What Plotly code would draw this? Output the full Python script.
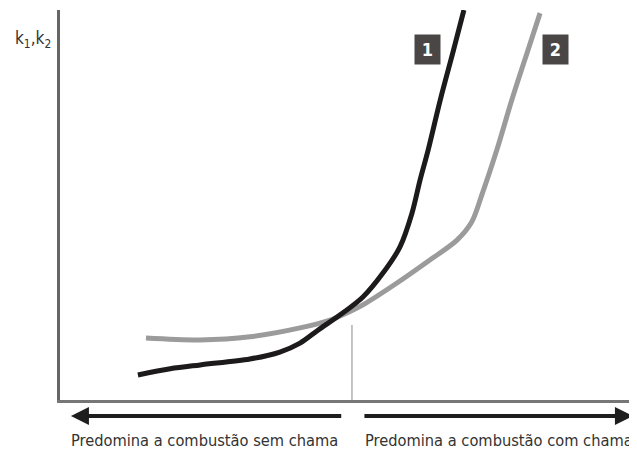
import plotly.graph_objects as go

# Curve 1 (black) and curve 2 (gray), arbitrary units (x: 0-100, y: 0-100)
x1 = [13.5, 19.1, 24.3, 32.9, 38.1, 41.6, 44.7, 49.0, 52.5, 56.0, 58.9, 61.0, 62.4, 63.8, 65.9, 68.2, 70.0]
y1 = [6.4, 8.0, 9.0, 10.5, 12.3, 14.6, 17.9, 22.3, 26.4, 32.6, 39.2, 47.9, 56.4, 64.1, 76.9, 89.7, 100.0]

x2 = [14.9, 24.3, 32.9, 41.6, 46.8, 49.4, 52.5, 58.4, 64.1, 68.8, 71.3, 73.2, 75.7, 78.3, 81.1, 83.2]
y2 = [15.9, 15.4, 16.2, 18.5, 20.5, 22.1, 24.4, 30.0, 35.9, 41.0, 45.5, 53.0, 64.1, 76.9, 89.7, 99.2]

curve_labels = ["1", "2"]
label_x = [63.7, 85.9]
label_y = [89.9, 89.9]

split_x = 50.6
region_labels = ["Predomina a combustão sem chama", "Predomina a combustão com chama"]
region_label_x = [25.0, 76.1]
y_label = "k<sub>1</sub>,k<sub>2</sub>"

FONT = "DejaVu Sans Condensed, Liberation Sans Narrow, sans-serif"

# The page body has an 8px default margin: size the figure so the plot area
# lands at the same screen pixels as the reference.
OFF = 8

fig = go.Figure()
fig.add_trace(go.Scatter(x=x2, y=y2, mode="lines",
                         line=dict(color="#9b9b9b", width=5, shape="spline", smoothing=0.9),
                         hoverinfo="skip", showlegend=False))
fig.add_trace(go.Scatter(x=x1, y=y1, mode="lines",
                         line=dict(color="#1c1a1a", width=5, shape="spline", smoothing=0.9),
                         hoverinfo="skip", showlegend=False))

# vertical divider line
fig.add_shape(type="line", xref="x", yref="y", x0=split_x, x1=split_x, y0=19.2, y1=-2.1,
              line=dict(color="#b0b0b0", width=1.5))

annotations = []
for t, lx, ly in zip(curve_labels, label_x, label_y):
    annotations.append(dict(x=lx, y=ly, xref="x", yref="y", text="<b>%s</b>" % t,
                            showarrow=False, bgcolor="#4b4646", width=25, height=29,
                            borderpad=0, font=dict(family=FONT, size=18, color="white")))

# arrows below axis
arrow_y = -0.041
annotations.append(dict(x=1.9, y=arrow_y, xref="x", yref="paper", ax=49.0, ay=0,
                        axref="x", ayref="pixel", text="", showarrow=True, arrowhead=2,
                        arrowsize=0.9, arrowwidth=4, arrowcolor="#1e1e1e", standoff=0, startstandoff=0))
annotations.append(dict(x=99.3, y=arrow_y, xref="x", yref="paper", ax=52.5, ay=0,
                        axref="x", ayref="pixel", text="", showarrow=True, arrowhead=2,
                        arrowsize=0.9, arrowwidth=4, arrowcolor="#1e1e1e", standoff=0, startstandoff=0))

for t, lx in zip(region_labels, region_label_x):
    annotations.append(dict(x=lx, y=-0.1026, xref="x", yref="paper", text=t, showarrow=False,
                            xanchor="center", yanchor="middle",
                            font=dict(family=FONT, size=16.3, color="#333333")))

annotations.append(dict(x=(33 - 60) / 577, y=(400 - 40) / 390, xref="paper", yref="paper",
                        text=y_label, showarrow=False, xanchor="center", yanchor="middle",
                        font=dict(family=FONT, size=17, color="#333333")))

fig.update_layout(
    width=637 - OFF, height=454 - OFF,
    margin=dict(l=60 - OFF, r=0, t=10 - OFF, b=54, pad=0),
    paper_bgcolor="white", plot_bgcolor="white",
    xaxis=dict(range=[0, 100], showgrid=False, zeroline=False, showticklabels=False, ticks="",
               showline=True, linecolor="#777777", linewidth=2.5),
    yaxis=dict(range=[0, 100], showgrid=False, zeroline=False, showticklabels=False, ticks="",
               showline=True, linecolor="#666666", linewidth=2.5),
    annotations=annotations,
)

fig.write_html("out.html")
